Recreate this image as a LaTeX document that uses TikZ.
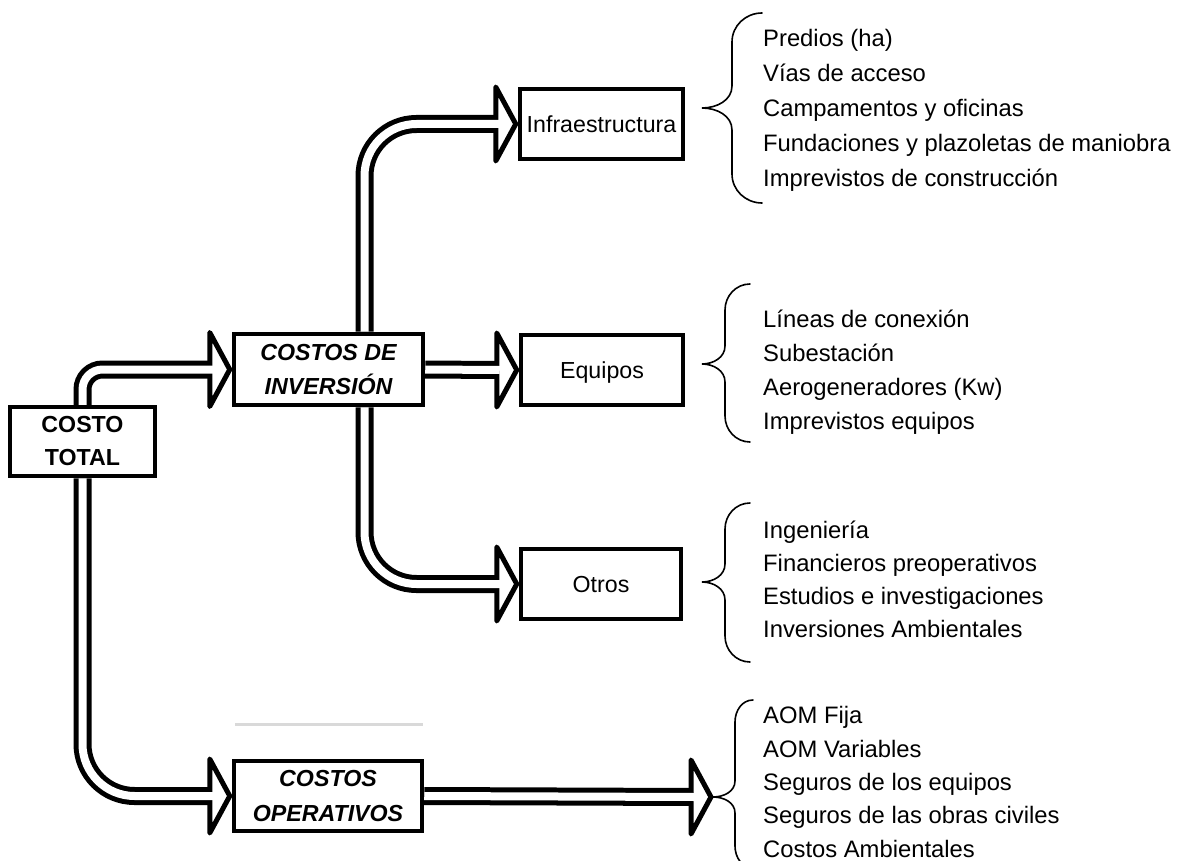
\documentclass[tikz,border=0pt]{standalone}
\usepackage{fontspec}
\setmainfont{Liberation Sans}
\pgfdeclarelayer{background}
\pgfsetlayers{background,main}
\definecolor{lgray}{RGB}{217,217,217}
% hollow double-line arrow: #1 corner style, #2 start, #3 path op, #4 end (tip)
\newcommand{\hollowarrow}[4]{%
  \begin{pgfonlayer}{background}
    \draw[line width=18, #1] (#2) #3 ([xshift=-22]#4);
    \filldraw[fill=white, line width=5, line join=round]
      ([xshift=-22,yshift=37]#4) -- ([xshift=-2]#4) -- ([xshift=-22,yshift=-37]#4) -- cycle;
    \draw[white, line width=8, #1] (#2) #3 ([xshift=-19]#4);
  \end{pgfonlayer}}
\begin{document}
\begin{tikzpicture}[x=1pt,y=-1pt,
  box/.style={draw, line width=4.5, fill=white, inner sep=0, align=center},
  single/.style={text height=16.5, text depth=0},
  boxfont/.style={font=\fontsize{23.2}{28}\selectfont},
  item/.style={anchor=base west, inner sep=0, font=\fontsize{23.8}{28}\selectfont},
  bracestyle/.style={line width=1.6, line cap=round},
]
\useasboundingbox (0,0) rectangle (1179,861);
\begin{pgfonlayer}{background}
  \fill[white] (0,0) rectangle (1179,861);
\end{pgfonlayer}

% boxes
\node[box, minimum width=145, minimum height=69,
      font=\fontsize{23.2}{33}\selectfont\bfseries] (ct) at (82.5,441.5) {COSTO\\TOTAL};
\node[box, minimum width=189, minimum height=71,
      font=\fontsize{23.2}{34}\selectfont\bfseries\itshape] (ci) at (328.5,369.5) {COSTOS DE\\INVERSIÓN};
\node[box, minimum width=188, minimum height=70,
      font=\fontsize{23.2}{35}\selectfont\bfseries\itshape] (co) at (328,796) {COSTOS\\OPERATIVOS};
\node[box, single, boxfont, minimum width=163, minimum height=70] (inf) at (601.5,124) {Infraestructura};
\node[box, single, boxfont, minimum width=162, minimum height=70] (eq) at (602,370) {Equipos};
\node[box, single, boxfont, minimum width=160, minimum height=70] (ot) at (601,584) {Otros};

\coordinate (opb) at (713,797);

% arrows
\hollowarrow{rounded corners=20}{ct.north}{|-}{ci.west}
\hollowarrow{rounded corners=52}{ct.south}{|-}{co.west}
\hollowarrow{rounded corners=52}{[xshift=36]ci.north}{|-}{inf.west}
\hollowarrow{rounded corners=52}{[xshift=36]ci.south}{|-}{ot.west}
\hollowarrow{sharp corners}{ci.east}{--}{eq.west}
\hollowarrow{sharp corners}{co.east}{--}{opb}

% stray gray line
\draw[lgray, line width=3] (235,724) -- (423,724);

% braces
\draw[bracestyle] (762,13) to[out=180,in=90] (732,42) -- (732,86)
  to[out=-90,in=0] (702,108) to[out=0,in=90] (732,130) -- (732,174)
  to[out=-90,in=180] (762,203);
\draw[bracestyle] (750,284) to[out=180,in=90] (725,310) -- (725,346)
  to[out=-90,in=0] (702,364) to[out=0,in=90] (725,382) -- (725,416)
  to[out=-90,in=180] (750,442);
\draw[bracestyle] (750,503) to[out=180,in=90] (725,529) -- (725,564)
  to[out=-90,in=0] (702,582) to[out=0,in=90] (725,600) -- (725,636)
  to[out=-90,in=180] (750,662);
\draw[bracestyle] (753,700) to[out=180,in=90] (735,722) -- (735,781)
  to[out=-90,in=0] (713,797) to[out=0,in=90] (735,813) -- (735,846)
  to[out=-90,in=180] (753,868);

% lists
\node[item] (a1) at (763,47) {Predios (ha)};
\node[item] (a2) at (763,82) {Vías de acceso};
\node[item] (a3) at (763,117) {Campamentos y oficinas};
\node[item] (a4) at (763,152) {Fundaciones y plazoletas de maniobra};
\node[item] (a5) at (763,187) {Imprevistos de construcción};

\node[item] (b1) at (763,327) {Líneas de conexión};
\node[item] (b2) at (763,361) {Subestación};
\node[item] (b3) at (763,395) {Aerogeneradores (Kw)};
\node[item] (b4) at (763,429) {Imprevistos equipos};

\node[item] (c1) at (763,538) {Ingeniería};
\node[item] (c2) at (763,571) {Financieros preoperativos};
\node[item] (c3) at (763,604) {Estudios e investigaciones};
\node[item] (c4) at (763,637) {Inversiones Ambientales};

\node[item] (d1) at (763,723) {AOM Fija};
\node[item] (d2) at (763,757) {AOM Variables};
\node[item] (d3) at (763,790) {Seguros de los equipos};
\node[item] (d4) at (763,823) {Seguros de las obras civiles};
\node[item] (d5) at (763,857) {Costos Ambientales};
\end{tikzpicture}
\end{document}
